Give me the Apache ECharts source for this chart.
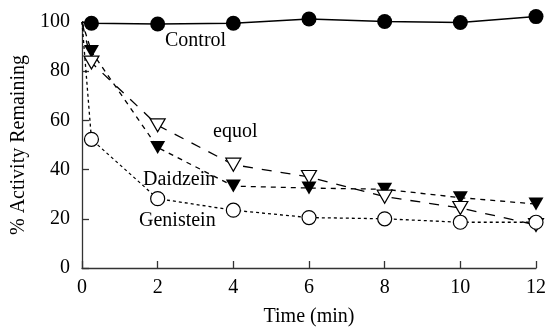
<!DOCTYPE html>
<html><head><meta charset="utf-8">
<script src="https://cdn.jsdelivr.net/npm/echarts@6/dist/echarts.min.js"></script>
<style>html,body{margin:0;padding:0;background:#fff}#c{width:549px;height:332px}</style>
</head><body><div id="c"></div>
<script>
const times = [0, 0.25, 2, 4, 6, 8, 10, 12];
const control = [100, 99.5, 99.2, 99.5, 101.2, 100.2, 99.8, 102.2];
const daidzein = [100, 88, 49, 33.3, 32.5, 32, 28.6, 26];
const equol = [100, 83.5, 58, 42, 37, 29, 24.4, 17.5];
const genistein = [100, 52.3, 28.2, 23.5, 20.5, 20, 18.6, 18.6];
const xTicks = [0, 2, 4, 6, 8, 10, 12];
const yTicks = [0, 20, 40, 60, 80, 100];
const seriesNames = ['Control', 'Daidzein', 'equol', 'Genistein'];

const font = 'Liberation Serif';
function mk(vals) {
  return times.map((t, i) => i === 0 ? {value: [t, vals[i]], symbol: 'none'} : [t, vals[i]]);
}
const chart = echarts.init(document.getElementById('c'), null, {renderer: 'canvas'});
chart.setOption({
  animation: false,
  backgroundColor: '#fff',
  grid: {left: 82, right: 12, top: 22, bottom: 59},
  xAxis: {
    type: 'value', min: 0, max: 12, interval: 2,
    name: 'Time (min)', nameLocation: 'middle', nameGap: 39,
    nameTextStyle: {fontFamily: font, fontSize: 20, color: '#000'},
    axisLine: {lineStyle: {color: '#333', width: 1.3}},
    axisTick: {inside: true, length: 7, lineStyle: {color: '#333', width: 1.3}},
    axisLabel: {fontFamily: font, fontSize: 20, color: '#000', margin: 10},
    splitLine: {show: false}
  },
  yAxis: {
    type: 'value', min: 0, max: 100, interval: 20,
    name: '% Activity Remaining', nameLocation: 'middle', nameGap: 53, nameRotate: 90,
    nameTextStyle: {fontFamily: font, fontSize: 20, color: '#000'},
    axisLine: {show: true, lineStyle: {color: '#333', width: 1.3}},
    axisTick: {show: true, inside: true, length: 7, lineStyle: {color: '#333', width: 1.3}},
    axisLabel: {fontFamily: font, fontSize: 20, color: '#000', margin: 12},
    splitLine: {show: false}
  },
  series: [
    {name: seriesNames[0], type: 'line', clip: false, data: mk(control), symbol: 'circle', symbolSize: 15,
     itemStyle: {color: '#000'}, lineStyle: {color: '#000', width: 1.5}, z: 5},
    {name: seriesNames[1], type: 'line', clip: false, data: mk(daidzein), symbol: 'triangle', symbolRotate: 180, symbolSize: [15, 13],
     itemStyle: {color: '#000'}, lineStyle: {color: '#000', width: 1.3, type: [5, 5]}},
    {name: seriesNames[2], type: 'line', clip: false, data: mk(equol), symbol: 'triangle', symbolRotate: 180, symbolSize: [15, 13],
     itemStyle: {color: '#fff', borderColor: '#000', borderWidth: 1.2}, lineStyle: {color: '#000', width: 1.3, type: [10, 9]}},
    {name: seriesNames[3], type: 'line', clip: false, data: mk(genistein), symbol: 'circle', symbolSize: 14,
     itemStyle: {color: '#fff', borderColor: '#000', borderWidth: 1.2}, lineStyle: {color: '#000', width: 1.3, type: [3, 3]}}
  ],
  graphic: [
    {type: 'text', left: 165, top: 31, style: {text: seriesNames[0], font: '20px "Liberation Serif"', fill: '#000'}},
    {type: 'text', left: 213, top: 122, style: {text: seriesNames[2], font: '20px "Liberation Serif"', fill: '#000'}},
    {type: 'text', left: 143, top: 170, style: {text: seriesNames[1], font: '20px "Liberation Serif"', fill: '#000', backgroundColor: '#fff'}},
    {type: 'text', left: 139, top: 211, style: {text: seriesNames[3], font: '20px "Liberation Serif"', fill: '#000'}}
  ]
});
</script></body></html>
